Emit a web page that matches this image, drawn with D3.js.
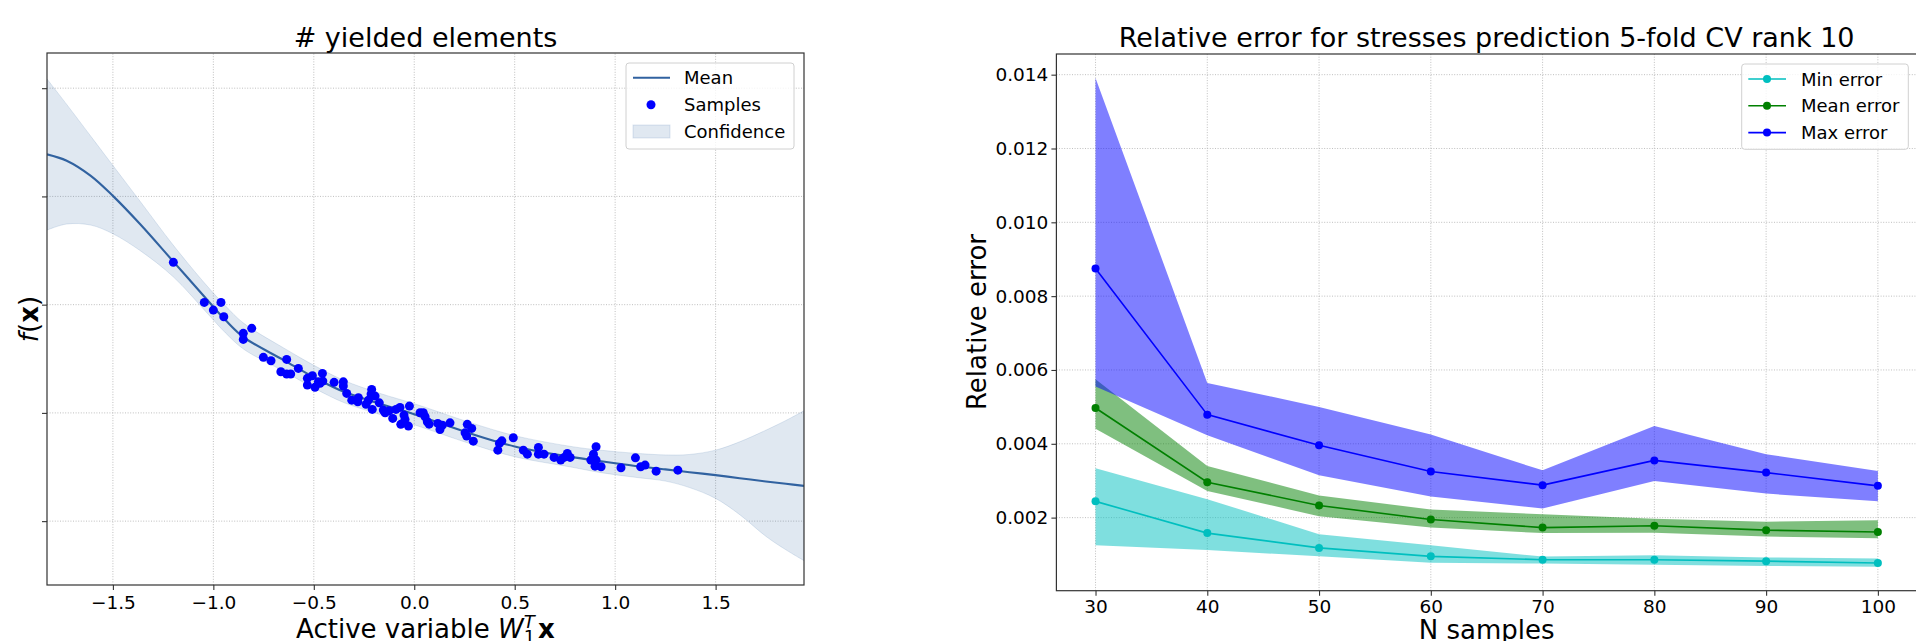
<!DOCTYPE html>
<html lang="en">
<head>
  <meta charset="UTF-8">
  <title>Active variable response and CV relative error</title>
  <script src="https://d3js.org/d3.v7.min.js"></script>
  <style>
    body { margin: 0; background: #fff; }
    svg { display: block; font-family: "DejaVu Sans", sans-serif; }
    .grid line { stroke: #b8b8b8; stroke-width: 0.9; stroke-dasharray: 1,1.6; }
    .axis path { display: none; }
    .axis line { stroke: #333; stroke-width: 1.1; }
    .axis text { font-size: 18.5px; fill: #000; font-family: "DejaVu Sans", sans-serif; }
    .frame { fill: none; stroke: #333; stroke-width: 1.2; }
    .title { font-size: 27px; text-anchor: middle; }
    .label { font-size: 26px; text-anchor: middle; }
    .legend text { font-size: 18px; }
    .legend-box { fill: #fff; fill-opacity: 0.8; stroke: #d0d0d0; stroke-width: 1; }
  </style>
</head>
<body>
  <svg width="1916" height="641"></svg>

  <script>
    // ---- left panel: GP response along the active variable ----
    const gpX     = [-1.828, -1.73, -1.61, -1.50, -1.365, -1.20, -1.03, -0.94, -0.85, -0.65, -0.49, -0.35, -0.17, 0.0, 0.28, 0.50, 0.78, 0.93, 1.10, 1.25, 1.37, 1.50, 1.62, 1.75, 1.85, 1.94];
    const gpMean  = [3.389, 3.33, 3.19, 3.005, 2.745, 2.40, 2.043, 1.858, 1.70, 1.488, 1.32, 1.195, 1.085, 0.988, 0.81, 0.69, 0.594, 0.553, 0.51, 0.478, 0.452, 0.425, 0.397, 0.366, 0.345, 0.326];
    const gpUpper = [4.085, 3.85, 3.556, 3.286, 2.956, 2.551, 2.17, 1.99, 1.83, 1.60, 1.43, 1.30, 1.18, 1.085, 0.91, 0.79, 0.69, 0.655, 0.627, 0.612, 0.616, 0.656, 0.733, 0.84, 0.93, 1.02];
    const gpLower = [2.689, 2.745, 2.735, 2.655, 2.50, 2.258, 1.92, 1.74, 1.59, 1.385, 1.22, 1.095, 0.985, 0.89, 0.715, 0.595, 0.50, 0.448, 0.405, 0.37, 0.31, 0.21, 0.06, -0.14, -0.265, -0.365];

    const sampleX = [-1.199, -1.045, -0.962, -1.0, -0.948, -0.809, -0.851, -0.851, -0.751, -0.713,
      -0.635, -0.664, -0.635, -0.615, -0.577, -0.532, -0.507, -0.532, -0.494, -0.477,
      -0.457, -0.469, -0.455, -0.399, -0.353, -0.353, -0.336, -0.311, -0.278, -0.281,
      -0.212, -0.215, -0.195, -0.228, -0.24, -0.174, -0.209, -0.154, -0.145, -0.125,
      -0.107, -0.091, -0.071, -0.024, -0.051, -0.046, -0.067, -0.029, 0.029, 0.045,
      0.054, 0.065, 0.074, 0.117, 0.128, 0.140, 0.178, 0.264, 0.286, 0.253,
      0.261, 0.294, 0.436, 0.424, 0.416, 0.493, 0.543, 0.563, 0.618, 0.618,
      0.646, 0.696, 0.729, 0.746, 0.762, 0.776, 0.905, 0.892, 0.879, 0.905,
      0.900, 0.930, 1.029, 1.101, 1.127, 1.149, 1.204, 1.312];
    const sampleY = [2.391, 2.021, 2.021, 1.95, 1.888, 1.781, 1.735, 1.679, 1.513, 1.482,
      1.494, 1.380, 1.359, 1.359, 1.411, 1.319, 1.343, 1.257, 1.236, 1.287,
      1.365, 1.273, 1.294, 1.282, 1.287, 1.248, 1.180, 1.118, 1.140, 1.103,
      1.217, 1.174, 1.155, 1.118, 1.079, 1.093, 1.032, 1.026, 1.001, 1.019,
      0.949, 1.032, 1.051, 1.063, 0.980, 0.940, 0.894, 0.878, 1.001, 1.001,
      0.964, 0.918, 0.896, 0.903, 0.847, 0.887, 0.908, 0.894, 0.857, 0.816,
      0.786, 0.739, 0.742, 0.718, 0.656, 0.770, 0.656, 0.619, 0.681, 0.619,
      0.619, 0.589, 0.564, 0.589, 0.626, 0.589, 0.687, 0.619, 0.564, 0.564,
      0.508, 0.502, 0.493, 0.585, 0.502, 0.518, 0.462, 0.471];

    const leftXTicks = [-1.5, -1.0, -0.5, 0.0, 0.5, 1.0, 1.5];
    const leftYTicks = [0, 1, 2, 3, 4];

    // ---- right panel: relative error vs number of samples ----
    const nSamples   = [30, 40, 50, 60, 70, 80, 90, 100];
    const minErr     = [0.00244, 0.00158, 0.00118, 0.00095, 0.00086, 0.00086, 0.00082, 0.00077];
    const minErrLo   = [0.00125, 0.00112, 0.00095, 0.00078, 0.000755, 0.00072, 0.00069, 0.00067];
    const minErrHi   = [0.00334, 0.0025, 0.00155, 0.00125, 0.000945, 0.00098, 0.00092, 0.00089];
    const meanErr    = [0.00497, 0.00296, 0.00233, 0.00195, 0.00173, 0.00178, 0.00166, 0.00161];
    const meanErrLo  = [0.00441, 0.00272, 0.00204, 0.00173, 0.00158, 0.00159, 0.00149, 0.00144];
    const meanErrHi  = [0.00575, 0.0034, 0.0026, 0.00222, 0.00209, 0.00197, 0.00189, 0.00193];
    const maxErr     = [0.00875, 0.00479, 0.00396, 0.00325, 0.00288, 0.00355, 0.00322, 0.00286];
    const maxErrLo   = [0.00555, 0.00423, 0.00315, 0.00257, 0.00225, 0.00299, 0.00265, 0.00244];
    const maxErrHi   = [0.01391, 0.00565, 0.005, 0.00425, 0.00328, 0.00448, 0.00372, 0.00326];

    const rightYTicks = [0.002, 0.004, 0.006, 0.008, 0.010, 0.012, 0.014];

    const svg = d3.select('svg');

    // helper: dotted grid + ticks for one panel
    function drawFrame(x, y, xTicks, yTicks, xFmt, yFmt, xPad, yPad) {
      const [x0, x1] = x.range();
      const [y0, y1] = y.range();
      const grid = svg.append('g').attr('class', 'grid');
      grid.selectAll('.gx').data(xTicks).join('line')
        .attr('class', 'gx')
        .attr('x1', d => x(d)).attr('x2', d => x(d)).attr('y1', y0).attr('y2', y1);
      grid.selectAll('.gy').data(yTicks).join('line')
        .attr('class', 'gy')
        .attr('x1', x0).attr('x2', x1).attr('y1', d => y(d)).attr('y2', d => y(d));

      svg.append('g').attr('class', 'axis')
        .attr('transform', `translate(0,${y0})`)
        .call(d3.axisBottom(x).tickValues(xTicks).tickSize(5).tickPadding(xPad).tickFormat(xFmt));
      svg.append('g').attr('class', 'axis')
        .attr('transform', `translate(${x0},0)`)
        .call(d3.axisLeft(y).tickValues(yTicks).tickSize(5).tickPadding(yPad).tickFormat(yFmt));
    }

    // ===== left panel =====
    const xL = d3.scaleLinear().domain([-1.828, 1.94]).range([47, 804]);
    const yL = d3.scaleLinear().domain([-0.59, 4.325]).range([585, 53]);
    const gpColor = '#3162a0';

    drawFrame(xL, yL, leftXTicks, leftYTicks, d3.format('.1f'), () => '', 6, 3);

    svg.append('clipPath').attr('id', 'clipL')
      .append('rect').attr('x', 47).attr('y', 53).attr('width', 757).attr('height', 532);
    const left = svg.append('g').attr('clip-path', 'url(#clipL)');

    const gp = gpX.map((v, i) => ({ x: v, m: gpMean[i], lo: gpLower[i], hi: gpUpper[i] }));
    const smooth = d3.curveCatmullRom.alpha(0.5);

    left.append('path')
      .datum(gp)
      .attr('fill', gpColor).attr('fill-opacity', 0.15)
      .attr('stroke', gpColor).attr('stroke-opacity', 0.15).attr('stroke-width', 1)
      .attr('d', d3.area().curve(smooth)
        .x(d => xL(d.x)).y0(d => yL(d.lo)).y1(d => yL(d.hi)));

    left.append('path')
      .datum(gp)
      .attr('fill', 'none').attr('stroke', gpColor).attr('stroke-width', 2.1)
      .attr('d', d3.line().curve(smooth).x(d => xL(d.x)).y(d => yL(d.m)));

    left.selectAll('.sample').data(sampleX.map((v, i) => [v, sampleY[i]])).join('circle')
      .attr('class', 'sample')
      .attr('cx', d => xL(d[0])).attr('cy', d => yL(d[1])).attr('r', 4.5)
      .attr('fill', '#0000ff');

    svg.append('rect').attr('class', 'frame').attr('x', 47).attr('y', 53).attr('width', 757).attr('height', 532);

    svg.append('text').attr('class', 'title').attr('x', 425.5).attr('y', 47).text('# yielded elements');

    const xlab = svg.append('text').attr('class', 'label').attr('x', 425.5).attr('y', 638);
    xlab.append('tspan').text('Active variable ');
    xlab.append('tspan').attr('font-style', 'italic').text('W');
    xlab.append('tspan').attr('font-style', 'italic').attr('font-size', 18).attr('dy', -10).text('T');
    xlab.append('tspan').attr('font-size', 18).attr('dx', -11).attr('dy', 15).text('1');
    xlab.append('tspan').attr('font-weight', 'bold').attr('dx', 3).attr('dy', -5).text('x');

    const ylab = svg.append('text').attr('class', 'label')
      .attr('transform', 'translate(38,319) rotate(-90)');
    ylab.append('tspan').attr('font-style', 'italic').text('f');
    ylab.append('tspan').text('(');
    ylab.append('tspan').attr('font-weight', 'bold').text('x');
    ylab.append('tspan').text(')');

    // legend
    const legL = svg.append('g').attr('class', 'legend');
    legL.append('rect').attr('class', 'legend-box').attr('x', 626).attr('y', 63)
      .attr('width', 168).attr('height', 86).attr('rx', 3);
    legL.append('line').attr('x1', 633).attr('x2', 670).attr('y1', 77.7).attr('y2', 77.7)
      .attr('stroke', gpColor).attr('stroke-width', 2.1);
    legL.append('circle').attr('cx', 651).attr('cy', 104.8).attr('r', 4.5).attr('fill', '#0000ff');
    legL.append('rect').attr('x', 633).attr('y', 125).attr('width', 37).attr('height', 13)
      .attr('fill', gpColor).attr('fill-opacity', 0.15)
      .attr('stroke', gpColor).attr('stroke-opacity', 0.15);
    ['Mean', 'Samples', 'Confidence'].forEach((t, i) => {
      legL.append('text').attr('x', 684).attr('y', 77.7 + i * 27 + 6.5).text(t);
    });

    // ===== right panel =====
    const xR = d3.scaleLinear().domain([26.5, 103.5]).range([1056.4, 1917]);
    const yR = d3.scaleLinear().domain([0.00002, 0.01456]).range([590.7, 54]);

    drawFrame(xR, yR, nSamples, rightYTicks, d3.format('d'), d3.format('.3f'), 4, 3);

    const series = [
      { name: 'Min error',  color: '#00bfbf', v: minErr,  lo: minErrLo,  hi: minErrHi },
      { name: 'Mean error', color: '#008000', v: meanErr, lo: meanErrLo, hi: meanErrHi },
      { name: 'Max error',  color: '#0000ff', v: maxErr,  lo: maxErrLo,  hi: maxErrHi }
    ];

    const areaR = d3.area().x((d, i) => xR(nSamples[i])).y0(d => yR(d[0])).y1(d => yR(d[1]));
    const lineR = d3.line().x((d, i) => xR(nSamples[i])).y(d => yR(d));

    // bands first, then lines on top (matplotlib z-order)
    series.forEach(s => {
      svg.append('path')
        .datum(s.lo.map((v, i) => [v, s.hi[i]]))
        .attr('fill', s.color).attr('fill-opacity', 0.5)
        .attr('d', areaR);
    });
    series.forEach(s => {
      svg.append('path').datum(s.v)
        .attr('fill', 'none').attr('stroke', s.color).attr('stroke-width', 1.6)
        .attr('d', lineR);
      svg.append('g').selectAll('circle').data(s.v).join('circle')
        .attr('cx', (d, i) => xR(nSamples[i])).attr('cy', d => yR(d)).attr('r', 4)
        .attr('fill', s.color);
    });

    svg.append('rect').attr('class', 'frame').attr('x', 1056.4).attr('y', 54).attr('width', 860.6).attr('height', 536.7);

    svg.append('text').attr('class', 'title').attr('x', 1486.7).attr('y', 47)
      .text('Relative error for stresses prediction 5-fold CV rank 10');
    svg.append('text').attr('class', 'label').attr('x', 1486.7).attr('y', 639).text('N samples');
    svg.append('text').attr('class', 'label')
      .attr('transform', 'translate(986,322) rotate(-90)').text('Relative error');

    const legR = svg.append('g').attr('class', 'legend');
    legR.append('rect').attr('class', 'legend-box').attr('x', 1741.7).attr('y', 64)
      .attr('width', 166.6).attr('height', 85.3).attr('rx', 3);
    series.forEach((s, i) => {
      const cy = 79 + i * 26.8;
      legR.append('line').attr('x1', 1748.3).attr('x2', 1786).attr('y1', cy).attr('y2', cy)
        .attr('stroke', s.color).attr('stroke-width', 1.6);
      legR.append('circle').attr('cx', 1767).attr('cy', cy).attr('r', 4).attr('fill', s.color);
      legR.append('text').attr('x', 1801).attr('y', cy + 6.5).text(s.name);
    });
  </script>
</body>
</html>
